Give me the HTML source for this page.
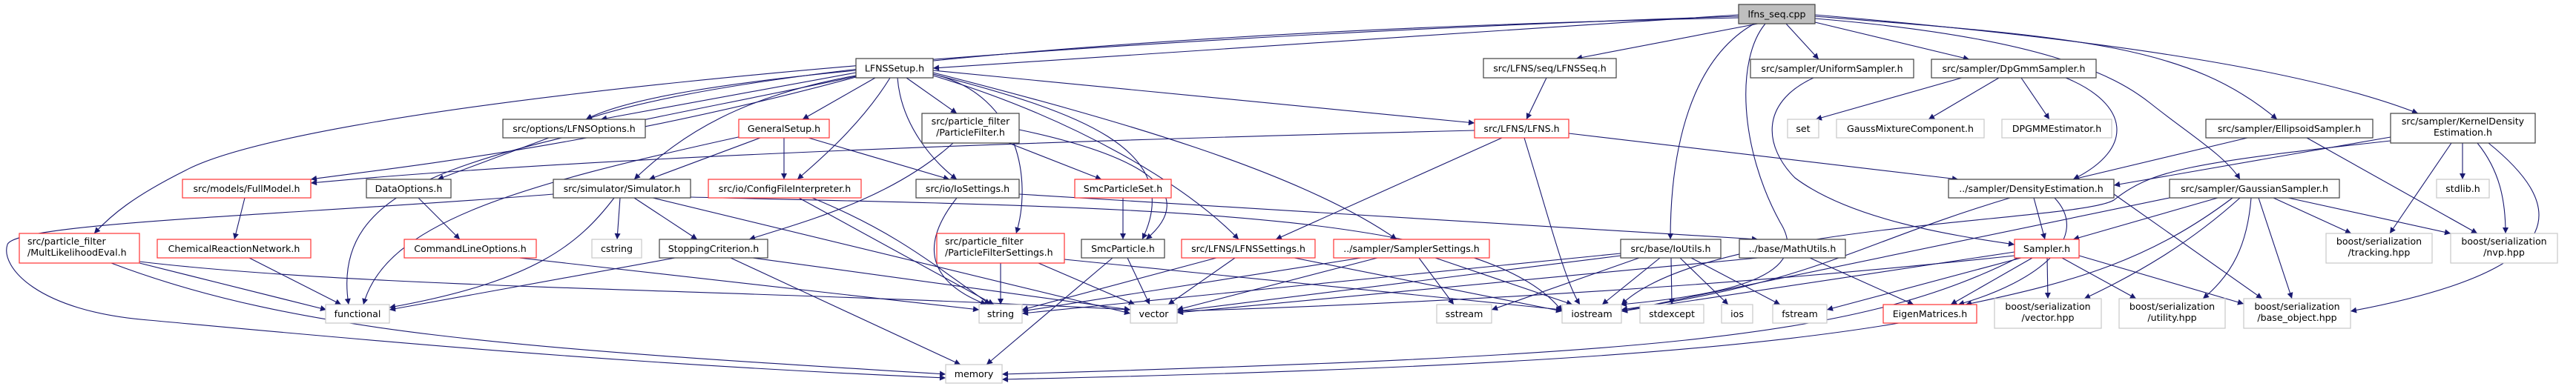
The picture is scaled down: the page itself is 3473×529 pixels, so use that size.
<!DOCTYPE html>
<html><head><meta charset="utf-8"><style>
html,body{margin:0;padding:0;background:#fff;}
svg{display:block;}
text{font-family:"DejaVu Sans","Liberation Sans",sans-serif;font-size:12.6px;fill:#000;}
.e{fill:none;stroke:#191970;stroke-width:1.1;marker-end:url(#a);}
.b{fill:#fff;stroke:#404040;stroke-width:1.2;}
.r{fill:#fff;stroke:#ff3333;stroke-width:1.2;}
.g{fill:#fff;stroke:#c8c8c8;stroke-width:1.2;}
</style></head><body>
<svg width="3473" height="529" viewBox="0 0 3473 529" xmlns="http://www.w3.org/2000/svg">
<defs><marker id="a" viewBox="0 0 10 10" refX="10" refY="5" markerWidth="10" markerHeight="8" markerUnits="userSpaceOnUse" orient="auto"><path d="M0,0 L10,5 L0,10 z" fill="#191970"/></marker></defs>
<g>
<path class="e" d="M2344 20 L1258 92"/>
<path class="e" d="M2344 24 C1600 40, 1000 90, 790 161"/>
<path class="e" d="M2370 32 L2125 79"/>
<path class="e" d="M2365 32 C2280 80, 2252 200, 2252 323"/>
<path class="e" d="M2380 32 C2340 80, 2345 200, 2400 300 C2450 380, 2300 400, 2185 411"/>
<path class="e" d="M2408 32 L2452 80"/>
<path class="e" d="M2447 30 L2655 80"/>
<path class="e" d="M2447 22 C2800 50, 2950 60, 3070 161"/>
<path class="e" d="M2447 20 C2800 50, 3100 90, 3260 153"/>
<path class="e" d="M2447 25 C2750 50, 2850 100, 2900 140 C2950 180, 3000 210, 3020 242"/>
<path class="e" d="M2344 22 C1200 60, 400 150, 250 230 C180 265, 150 290, 127 315"/>
<path class="e" d="M1154 98 L810 161"/>
<path class="e" d="M1154 95 C1000 110, 850 130, 790 161"/>
<path class="e" d="M1180 105 L1082 161"/>
<path class="e" d="M1154 102 C1000 130, 920 180, 855 242"/>
<path class="e" d="M1200 105 C1160 170, 1100 220, 1075 242"/>
<path class="e" d="M1210 105 C1215 170, 1260 220, 1290 242"/>
<path class="e" d="M1222 105 L1290 153"/>
<path class="e" d="M1258 100 C1380 130, 1390 250, 1370 315"/>
<path class="e" d="M1258 102 C1450 160, 1600 250, 1670 323"/>
<path class="e" d="M1258 98 C1500 160, 1750 230, 1883 323"/>
<path class="e" d="M1258 95 L1988 166"/>
<path class="e" d="M1258 100 C1450 150, 1600 200, 1540 323"/>
<path class="e" d="M1154 103 C700 200, 440 220, 470 411"/>
<path class="e" d="M1154 104 C800 200, 500 230, 419 242"/>
<path class="e" d="M2085 105 L2058 161"/>
<path class="e" d="M2115 180 L2640 242"/>
<path class="e" d="M2025 186 L1720 323"/>
<path class="e" d="M2055 186 C2090 300, 2110 380, 2130 411"/>
<path class="e" d="M1988 176 C1000 200, 600 230, 419 247"/>
<path class="e" d="M1025 186 L875 242"/>
<path class="e" d="M1057 186 L1057 242"/>
<path class="e" d="M1090 186 L1280 242"/>
<path class="e" d="M1000 184 C700 250, 520 300, 490 411"/>
<path class="e" d="M740 186 L590 242"/>
<path class="e" d="M564 267 L620 323"/>
<path class="e" d="M330 267 L316 323"/>
<path class="e" d="M336 348 L460 411"/>
<path class="e" d="M188 355 L440 418"/>
<path class="e" d="M150 355 C400 450, 700 470, 1275 505"/>
<path class="e" d="M188 353 C500 390, 1000 390, 1524 418"/>
<path class="e" d="M746 262 C400 290, 20 300, 10 330 C0 360, 50 420, 200 432 C400 450, 800 490, 1275 510"/>
<path class="e" d="M836 267 L832 323"/>
<path class="e" d="M855 267 L940 323"/>
<path class="e" d="M828 267 C780 330, 720 380, 525 415"/>
<path class="e" d="M880 267 L1524 423"/>
<path class="e" d="M931 266 C1500 280, 2000 280, 2106 420"/>
<path class="e" d="M1077 267 L1340 411"/>
<path class="e" d="M1095 267 C1200 310, 1250 350, 1335 411"/>
<path class="e" d="M1290 267 C1240 330, 1250 380, 1330 411"/>
<path class="e" d="M1374 262 L2370 323"/>
<path class="e" d="M1360 193 L1485 242"/>
<path class="e" d="M1285 193 C1200 270, 1080 300, 1010 323"/>
<path class="e" d="M1374 175 C1540 210, 1620 260, 1545 323"/>
<path class="e" d="M1514 267 L1514 323"/>
<path class="e" d="M1520 348 L1550 411"/>
<path class="e" d="M1500 348 L1330 492"/>
<path class="e" d="M1349 355 L1349 411"/>
<path class="e" d="M1400 355 L1530 411"/>
<path class="e" d="M1435 350 L2106 418"/>
<path class="e" d="M910 348 L525 418"/>
<path class="e" d="M985 348 L1295 492"/>
<path class="e" d="M1015 348 L1524 418"/>
<path class="e" d="M700 348 L1320 418"/>
<path class="e" d="M1665 348 L1575 411"/>
<path class="e" d="M1640 348 L1378 418"/>
<path class="e" d="M1745 348 L2106 420"/>
<path class="e" d="M1857 348 L1587 418"/>
<path class="e" d="M1835 348 L1378 420"/>
<path class="e" d="M1913 348 L1960 411"/>
<path class="e" d="M1935 348 L2120 411"/>
<path class="e" d="M2238 348 L2160 411"/>
<path class="e" d="M2253 348 L2254 411"/>
<path class="e" d="M2265 348 L2330 411"/>
<path class="e" d="M2280 348 L2400 411"/>
<path class="e" d="M2185 345 L1587 420"/>
<path class="e" d="M2185 342 L1378 423"/>
<path class="e" d="M2210 348 L2011 418"/>
<path class="e" d="M2440 348 L2580 411"/>
<path class="e" d="M2370 348 L1587 422"/>
<path class="e" d="M2445 105 C2370 140, 2380 200, 2420 240 C2500 300, 2650 320, 2716 330"/>
<path class="e" d="M2645 105 L2448 161"/>
<path class="e" d="M2695 105 L2600 161"/>
<path class="e" d="M2725 105 L2763 161"/>
<path class="e" d="M2785 105 C2870 140, 2880 200, 2795 242"/>
<path class="e" d="M2742 267 L2757 323"/>
<path class="e" d="M2710 267 C2500 330, 2450 380, 2186 418"/>
<path class="e" d="M2850 262 L3050 403"/>
<path class="e" d="M2770 267 C2820 320, 2750 380, 2640 411"/>
<path class="e" d="M2740 348 L2630 411"/>
<path class="e" d="M2760 348 L2761 403"/>
<path class="e" d="M2716 340 L2186 420"/>
<path class="e" d="M2716 345 C2300 390, 1900 410, 1587 420"/>
<path class="e" d="M2725 348 L2463 418"/>
<path class="e" d="M2803 345 L3025 410"/>
<path class="e" d="M2720 348 C2500 460, 2200 480, 1351 505"/>
<path class="e" d="M2780 348 L2880 403"/>
<path class="e" d="M3030 186 L2795 242"/>
<path class="e" d="M3110 186 L3340 315"/>
<path class="e" d="M3223 185 L2850 250"/>
<path class="e" d="M3320 193 L3320 242"/>
<path class="e" d="M3305 193 L3222 315"/>
<path class="e" d="M3340 193 C3370 230, 3378 270, 3378 315"/>
<path class="e" d="M3355 193 C3450 270, 3490 360, 3169 420"/>
<path class="e" d="M3223 190 C2950 220, 2900 230, 2850 270 C2800 300, 2300 300, 2186 411"/>
<path class="e" d="M2990 267 L2795 323"/>
<path class="e" d="M3010 267 C2900 350, 2800 380, 2650 411"/>
<path class="e" d="M3020 267 C2950 330, 2880 370, 2810 403"/>
<path class="e" d="M3035 267 C3030 330, 3010 370, 2970 403"/>
<path class="e" d="M3045 267 L3090 403"/>
<path class="e" d="M3065 267 L3170 315"/>
<path class="e" d="M3085 267 L3304 315"/>
<path class="e" d="M2925 267 L2186 420"/>
<path class="e" d="M2560 436 C2300 480, 1900 500, 1351 512"/>
</g>
<g>
<rect x="2344" y="6" width="103" height="26" fill="#bfbfbf" stroke="#404040" stroke-width="1.2"/><text x="2395.5" y="23.5" text-anchor="middle">lfns_seq.cpp</text>
<rect class="b" x="1154" y="79" width="104" height="26"/><text x="1206" y="96.5" text-anchor="middle">LFNSSetup.h</text>
<rect class="b" x="2000" y="79" width="179" height="26"/><text x="2089.5" y="96.5" text-anchor="middle">src/LFNS/seq/LFNSSeq.h</text>
<rect class="b" x="2360" y="80" width="220" height="25"/><text x="2470" y="97" text-anchor="middle">src/sampler/UniformSampler.h</text>
<rect class="b" x="2604" y="80" width="222" height="25"/><text x="2715" y="97" text-anchor="middle">src/sampler/DpGmmSampler.h</text>
<rect class="b" x="678" y="161" width="192" height="25"/><text x="774" y="178" text-anchor="middle">src/options/LFNSOptions.h</text>
<rect class="r" x="996" y="161" width="122" height="25"/><text x="1057" y="178" text-anchor="middle">GeneralSetup.h</text>
<rect class="b" x="1243" y="153" width="131" height="40"/><text x="1308.5" y="168" text-anchor="middle">src/particle_filter</text><text x="1308.5" y="183" text-anchor="middle">/ParticleFilter.h</text>
<rect class="r" x="1988" y="161" width="127" height="25"/><text x="2051.5" y="178" text-anchor="middle">src/LFNS/LFNS.h</text>
<rect class="g" x="2410" y="161" width="42" height="25"/><text x="2431" y="178" text-anchor="middle">set</text>
<rect class="g" x="2476" y="161" width="199" height="25"/><text x="2575.5" y="178" text-anchor="middle">GaussMixtureComponent.h</text>
<rect class="g" x="2699" y="161" width="148" height="25"/><text x="2773" y="178" text-anchor="middle">DPGMMEstimator.h</text>
<rect class="b" x="2974" y="161" width="225" height="25"/><text x="3086.5" y="178" text-anchor="middle">src/sampler/EllipsoidSampler.h</text>
<rect class="b" x="3223" y="153" width="195" height="40"/><text x="3320.5" y="168" text-anchor="middle">src/sampler/KernelDensity</text><text x="3320.5" y="183" text-anchor="middle">Estimation.h</text>
<rect class="r" x="246" y="242" width="173" height="25"/><text x="332.5" y="259" text-anchor="middle">src/models/FullModel.h</text>
<rect class="b" x="494" y="242" width="114" height="25"/><text x="551" y="259" text-anchor="middle">DataOptions.h</text>
<rect class="b" x="746" y="242" width="185" height="25"/><text x="838.5" y="259" text-anchor="middle">src/simulator/Simulator.h</text>
<rect class="r" x="955" y="242" width="206" height="25"/><text x="1058" y="259" text-anchor="middle">src/io/ConfigFileInterpreter.h</text>
<rect class="b" x="1235" y="242" width="139" height="25"/><text x="1304.5" y="259" text-anchor="middle">src/io/IoSettings.h</text>
<rect class="r" x="1449" y="242" width="130" height="25"/><text x="1514" y="259" text-anchor="middle">SmcParticleSet.h</text>
<rect class="b" x="2627" y="242" width="223" height="25"/><text x="2738.5" y="259" text-anchor="middle">../sampler/DensityEstimation.h</text>
<rect class="b" x="2925" y="242" width="229" height="25"/><text x="3039.5" y="259" text-anchor="middle">src/sampler/GaussianSampler.h</text>
<rect class="g" x="3285" y="242" width="71" height="25"/><text x="3320.5" y="259" text-anchor="middle">stdlib.h</text>
<rect class="r" x="26" y="315" width="162" height="40"/><text x="37" y="330">src/particle_filter</text><text x="37" y="345">/MultLikelihoodEval.h</text>
<rect class="r" x="212" y="323" width="207" height="25"/><text x="315.5" y="340" text-anchor="middle">ChemicalReactionNetwork.h</text>
<rect class="r" x="545" y="323" width="178" height="25"/><text x="634" y="340" text-anchor="middle">CommandLineOptions.h</text>
<rect class="g" x="798" y="323" width="67" height="25"/><text x="831.5" y="340" text-anchor="middle">cstring</text>
<rect class="b" x="889" y="323" width="146" height="25"/><text x="962" y="340" text-anchor="middle">StoppingCriterion.h</text>
<rect class="r" x="1263" y="315" width="172" height="40"/><text x="1274" y="330">src/particle_filter</text><text x="1274" y="345">/ParticleFilterSettings.h</text>
<rect class="b" x="1458" y="323" width="112" height="25"/><text x="1514" y="340" text-anchor="middle">SmcParticle.h</text>
<rect class="r" x="1593" y="323" width="180" height="25"/><text x="1683" y="340" text-anchor="middle">src/LFNS/LFNSSettings.h</text>
<rect class="r" x="1798" y="323" width="210" height="25"/><text x="1903" y="340" text-anchor="middle">../sampler/SamplerSettings.h</text>
<rect class="b" x="2185" y="323" width="135" height="25"/><text x="2252.5" y="340" text-anchor="middle">src/base/IoUtils.h</text>
<rect class="b" x="2345" y="323" width="143" height="25"/><text x="2416.5" y="340" text-anchor="middle">../base/MathUtils.h</text>
<rect class="r" x="2716" y="323" width="87" height="25"/><text x="2759.5" y="340" text-anchor="middle">Sampler.h</text>
<rect class="g" x="3136" y="315" width="143" height="40"/><text x="3207.5" y="330" text-anchor="middle">boost/serialization</text><text x="3207.5" y="345" text-anchor="middle">/tracking.hpp</text>
<rect class="g" x="3304" y="315" width="144" height="40"/><text x="3376" y="330" text-anchor="middle">boost/serialization</text><text x="3376" y="345" text-anchor="middle">/nvp.hpp</text>
<rect class="g" x="439" y="411" width="86" height="25"/><text x="482" y="428" text-anchor="middle">functional</text>
<rect class="g" x="1320" y="411" width="58" height="25"/><text x="1349" y="428" text-anchor="middle">string</text>
<rect class="g" x="1524" y="411" width="63" height="25"/><text x="1555.5" y="428" text-anchor="middle">vector</text>
<rect class="g" x="1937" y="411" width="74" height="25"/><text x="1974" y="428" text-anchor="middle">sstream</text>
<rect class="g" x="2106" y="411" width="80" height="25"/><text x="2146" y="428" text-anchor="middle">iostream</text>
<rect class="g" x="2211" y="411" width="86" height="25"/><text x="2254" y="428" text-anchor="middle">stdexcept</text>
<rect class="g" x="2321" y="411" width="42" height="25"/><text x="2342" y="428" text-anchor="middle">ios</text>
<rect class="g" x="2390" y="411" width="73" height="25"/><text x="2426.5" y="428" text-anchor="middle">fstream</text>
<rect class="r" x="2539" y="411" width="126" height="25"/><text x="2602" y="428" text-anchor="middle">EigenMatrices.h</text>
<rect class="g" x="2689" y="403" width="144" height="40"/><text x="2761" y="418" text-anchor="middle">boost/serialization</text><text x="2761" y="433" text-anchor="middle">/vector.hpp</text>
<rect class="g" x="2857" y="403" width="143" height="40"/><text x="2928.5" y="418" text-anchor="middle">boost/serialization</text><text x="2928.5" y="433" text-anchor="middle">/utility.hpp</text>
<rect class="g" x="3025" y="403" width="144" height="40"/><text x="3097" y="418" text-anchor="middle">boost/serialization</text><text x="3097" y="433" text-anchor="middle">/base_object.hpp</text>
<rect class="g" x="1275" y="492" width="76" height="25"/><text x="1313" y="509" text-anchor="middle">memory</text>
</g>
</svg>
</body></html>
